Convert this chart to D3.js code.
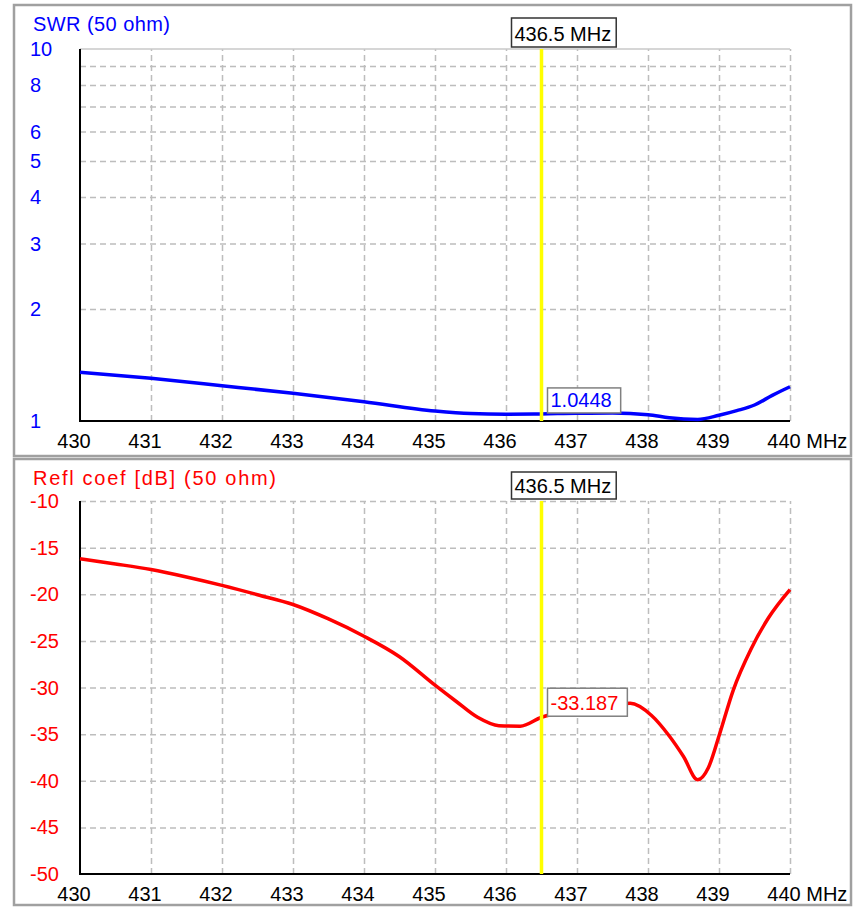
<!DOCTYPE html>
<html>
<head>
<meta charset="utf-8">
<script src="https://cdn.jsdelivr.net/npm/d3@7"></script>
<style>
  body { margin: 0; background: #fff; }
  text { font-family: "Liberation Sans", Arial, sans-serif; font-size: 20px; }
</style>
</head>
<body>
<div id="chart"></div>
<script>
// Frequency axis (MHz)
var freqTicks = [430, 431, 432, 433, 434, 435, 436, 437, 438, 439, 440];
var markerFreq = 436.5;

// SWR (50 ohm)
var swrFreq = [430, 431, 432, 433, 434, 435, 435.5, 436, 436.5, 437, 437.5, 438, 438.3, 438.7, 439, 439.25, 439.5, 439.75, 440];
var swrValues = [1.352, 1.302, 1.244, 1.187, 1.127, 1.064, 1.047, 1.043, 1.0448, 1.049, 1.050, 1.040, 1.020, 1.010, 1.036, 1.066, 1.104, 1.172, 1.236];
var swrTicks = [1, 2, 3, 4, 5, 6, 8, 10];
var swrGrid = [2, 3, 4, 5, 6, 7, 8, 9];
var swrMarkerValue = 1.0448;

// Refl coef [dB] (50 ohm)
var reflFreq = [430, 430.5, 431, 431.5, 432, 432.5, 433, 433.5, 434, 434.5, 435, 435.3, 435.6, 435.9, 436.2, 436.5, 437, 437.4, 437.75, 438.05, 438.3, 438.5, 438.7, 438.85, 439, 439.2, 439.45, 439.7, 440];
var reflValues = [-16.2, -16.75, -17.35, -18.15, -19.05, -20.05, -21.1, -22.65, -24.5, -26.7, -29.75, -31.5, -33.2, -34.1, -34.15, -33.187, -32.4, -31.9, -31.7, -33.0, -35.2, -37.4, -39.9, -38.6, -35.2, -30.3, -25.9, -22.5, -19.5];
var reflTicks = [-10, -15, -20, -25, -30, -35, -40, -45, -50];
var reflGrid = [-10, -15, -20, -25, -30, -35, -40, -45];
var reflMarkerValue = -33.187;

var width = 861, height = 907;
var svg = d3.select("#chart").append("svg")
    .attr("width", width)
    .attr("height", height);
svg.append("rect").attr("width", width).attr("height", height).attr("fill", "#fff");

// shared x scale
var x = d3.scaleLinear().domain([430, 440]).range([80, 790]);

// Draws one panel (frame, grid, axes, labels, curve and marker)
var drawPanel = function(opt) {
    var g = svg.append("g");

    // Panel frame
    g.append("rect")
        .attr("x", opt.frame[0]).attr("y", opt.frame[1])
        .attr("width", opt.frame[2]).attr("height", opt.frame[3])
        .attr("fill", "#fff")
        .attr("stroke", "#a0a0a0")
        .attr("stroke-width", 2.5);

    var y = opt.y;

    // Horizontal grid
    g.append("g")
        .attr("transform", "translate(80,0)")
        .call(d3.axisLeft(y).tickValues(opt.grid).tickSize(-710).tickFormat(""))
        .call(function(a) { a.select(".domain").remove(); })
        .selectAll("line")
        .attr("stroke", "#bdbdbd")
        .attr("stroke-width", 1.5)
        .attr("stroke-dasharray", "6,4");

    // Vertical grid
    g.append("g")
        .attr("transform", "translate(0," + opt.bottom + ")")
        .call(d3.axisBottom(x).tickValues(freqTicks.slice(1)).tickSize(-(opt.bottom - opt.top)).tickFormat(""))
        .call(function(a) { a.select(".domain").remove(); })
        .selectAll("line")
        .attr("stroke", "#bdbdbd")
        .attr("stroke-width", 1.5)
        .attr("stroke-dasharray", "6,4");

    if (opt.topLine) {
        g.append("line")
            .attr("x1", 80).attr("x2", 790)
            .attr("y1", opt.top).attr("y2", opt.top)
            .attr("stroke", "#c8c8c8").attr("stroke-width", 1.5);
    }

    // Axis lines
    g.append("line")
        .attr("x1", 80).attr("x2", 80)
        .attr("y1", opt.top).attr("y2", opt.bottom)
        .attr("stroke", "#000").attr("stroke-width", 2);
    g.append("line")
        .attr("x1", 79).attr("x2", 790)
        .attr("y1", opt.bottom).attr("y2", opt.bottom)
        .attr("stroke", "#000").attr("stroke-width", 2);

    // Title (stretched to the width of the original bitmap font)
    g.append("text")
        .attr("x", 33).attr("y", opt.titleY)
        .attr("fill", opt.color)
        .attr("textLength", opt.titleW)
        .attr("lengthAdjust", "spacing")
        .text(opt.title);

    // Y labels
    g.selectAll(".ylab")
        .data(opt.ticks)
        .enter().append("text")
        .attr("x", 30)
        .attr("y", function(d) { return y(d) + 7; })
        .attr("fill", opt.color)
        .text(function(d) { return d; });

    // X labels
    var xl = g.selectAll(".xlab")
        .data(freqTicks)
        .enter().append("text")
        .attr("x", function(d) { return x(d) - 6; })
        .attr("y", opt.labelY)
        .attr("text-anchor", "middle")
        .attr("fill", "#000")
        .text(function(d) { return d; });
    var lastNode = xl.nodes()[xl.nodes().length - 1];
    var lastW = lastNode.getComputedTextLength();
    g.append("text")
        .attr("x", x(440) - 6 + lastW / 2)
        .attr("y", opt.labelY)
        .attr("fill", "#000")
        .text("\u00a0MHz");

    // Curve
    var line = d3.line()
        .x(function(d) { return x(d[0]); })
        .y(function(d) { return y(d[1]); })
        .curve(d3.curveMonotoneX);
    g.append("path")
        .datum(d3.zip(opt.freq, opt.values))
        .attr("d", line)
        .attr("fill", "none")
        .attr("stroke", opt.color)
        .attr("stroke-width", 3.5)
        .attr("stroke-linejoin", "round");

    // Marker line
    var mx = x(markerFreq);
    g.append("line")
        .attr("x1", mx).attr("x2", mx)
        .attr("y1", opt.top).attr("y2", opt.bottom)
        .attr("stroke", "#ffff00")
        .attr("stroke-width", 3.5);

    // Marker frequency box
    var fb = g.append("g");
    var fbRect = fb.append("rect")
        .attr("x", mx - 30).attr("y", opt.freqBoxY)
        .attr("height", opt.freqBoxH)
        .attr("fill", "#fff")
        .attr("stroke", "#333")
        .attr("stroke-width", 1.5);
    var fbText = fb.append("text")
        .attr("x", mx - 27).attr("y", opt.freqBoxY + opt.freqBoxH - 6)
        .attr("fill", "#000")
        .text(markerFreq + " MHz");
    fbRect.attr("width", fbText.node().getComputedTextLength() + 8);

    // Marker value box
    var vy = y(opt.markerValue);
    var vb = g.append("g");
    var vbRect = vb.append("rect")
        .attr("x", mx + 6).attr("y", vy - 1 - opt.valBoxH)
        .attr("height", opt.valBoxH)
        .attr("fill", "#fff")
        .attr("stroke", "#808080")
        .attr("stroke-width", 1.5);
    var vbText = vb.append("text")
        .attr("x", mx + 9).attr("y", vy - 7)
        .attr("fill", opt.color)
        .text(opt.markerLabel);
    vbRect.attr("width", vbText.node().getComputedTextLength() + 12);
};

// SWR panel
drawPanel({
    frame: [14, 5, 837, 451],
    top: 49, bottom: 421,
    y: d3.scaleLog().domain([1, 10]).range([421, 49]),
    grid: swrGrid, ticks: swrTicks, topLine: true,
    title: "SWR (50 ohm)", titleY: 31, titleW: 137, color: "#0000ff",
    labelY: 448,
    freq: swrFreq, values: swrValues,
    markerValue: swrMarkerValue, markerLabel: "1.0448",
    freqBoxY: 18, freqBoxH: 29, valBoxH: 25
});

// Reflection coefficient panel
drawPanel({
    frame: [14, 459, 837, 446],
    top: 501, bottom: 874,
    y: d3.scaleLinear().domain([-10, -50]).range([501, 874]),
    grid: reflGrid, ticks: reflTicks, topLine: false,
    title: "Refl coef [dB] (50 ohm)", titleY: 485, titleW: 243, color: "#ff0000",
    labelY: 901,
    freq: reflFreq, values: reflValues,
    markerValue: reflMarkerValue, markerLabel: "-33.187",
    freqBoxY: 472, freqBoxH: 27, valBoxH: 28
});
</script>
</body>
</html>
